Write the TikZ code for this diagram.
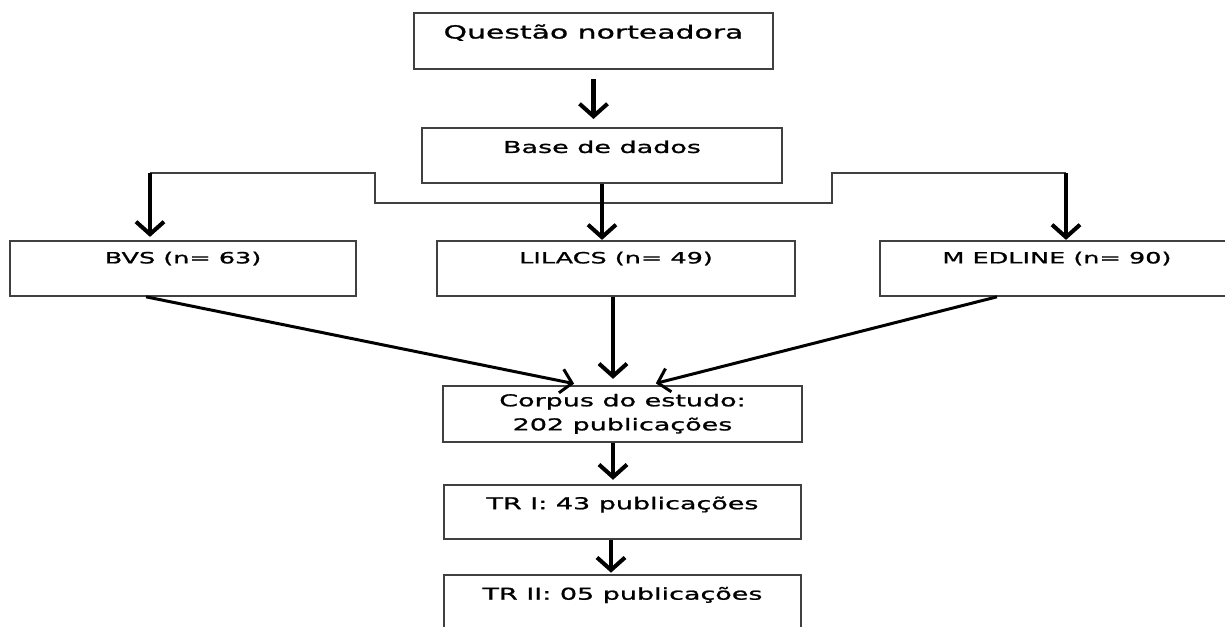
\documentclass[tikz,border=0pt]{standalone}
\usepackage{fontspec}
\newfontfamily\flowfont{DejaVu Sans}[FakeStretch=1.65, FakeBold=1.2]
\usepackage{tikz}
\usetikzlibrary{positioning,arrows.meta}

\begin{document}
\begin{tikzpicture}[
  blk/.style={draw=black!75, line width=1.1pt, minimum height=1.1cm,
              inner sep=0pt, align=center,
              font=\flowfont\fontsize{9.3}{13.7}\selectfont},
  hdblk/.style={blk, text height=0.25cm, text depth=0.35cm},
  rowblk/.style={hdblk, text depth=0.45cm, minimum height=1.1cm,
                 font=\flowfont\fontsize{8.8}{12}\selectfont},
  arr/.style={-{Straight Barb[length=0.25cm, width=0.56cm]}, line width=2.3pt},
  arrd/.style={-{Straight Barb[length=0.22cm, width=0.48cm]}, line width=1.7pt},
  link/.style={draw=black!75, line width=1pt},
]
  \useasboundingbox (0,0) rectangle (24.5,-12.52);

  \node[hdblk, minimum width=7.18cm, minimum height=1.12cm,
        font=\flowfont\fontsize{10.3}{12}\selectfont] (q) at (11.87,-0.82)
    {Questão norteadora};
  \node[hdblk, below=1.14 of q, xshift=0.17cm, minimum width=7.2cm] (base)
    {Base de dados};

  \node[rowblk, below=1.12 of base, xshift=0.28cm, minimum width=7.16cm] (lil)
    {LILACS (n= 49)};
  \node[rowblk, left=1.58 of lil, minimum width=6.92cm] (bvs)
    {BVS (n= 63)};
  \node[rowblk, right=1.66 of lil, minimum width=7.08cm] (med)
    {M EDLINE (n= 90)};

  \node[blk, below=1.76 of lil, xshift=0.13cm, minimum width=7.18cm,
        minimum height=1.12cm] (corpus)
    {Corpus do estudo:\\202 publicações};
  \node[hdblk, below=0.82 of corpus, minimum width=7.14cm,
        minimum height=1.08cm] (tr1)
    {TR I: 43 publicações};
  \node[hdblk, below=0.68 of tr1, minimum width=7.14cm] (tr2)
    {TR II: 05 publicações};

  % branching towards the three databases
  \coordinate (jl) at (3.0,-3.46);
  \coordinate (jr) at (21.32,-3.46);
  \coordinate (sl) at (7.5,-4.06);
  \coordinate (sr) at (16.64,-4.06);

  \draw[arr, shorten <=0.18cm, shorten >=0.16cm] (q.south) -- (q.south |- base.north);
  \draw[link] (jl) -- (jl -| sl) -- (sl) -- (sr) -- (jr -| sr) -- (jr);
  \draw[arr, shorten >=0.06cm] (jl) -- (jl |- bvs.north);
  \draw[arr] (base.south) -- (base.south |- lil.north);
  \draw[arr] (jr) -- (jr |- med.north);

  % merging into the corpus
  \draw[arrd, shorten >=0.12cm] ([xshift=-0.74cm]bvs.south) -- ([xshift=-0.85cm]corpus.north);
  \draw[arr, shorten >=0.12cm] ([xshift=-0.06cm]lil.south) -- ([xshift=-0.06cm]lil.south |- corpus.north);
  \draw[arrd, shorten >=0.12cm] ([xshift=-1.2cm]med.south) -- ([xshift=0.55cm]corpus.north);

  \draw[arr, shorten >=0.08cm] ([xshift=-0.19cm]corpus.south) -- ([xshift=-0.19cm]corpus.south |- tr1.north);
  \draw[arr, shorten >=0.02cm] ([xshift=-0.23cm]tr1.south) -- ([xshift=-0.23cm]tr1.south |- tr2.north);
\end{tikzpicture}
\end{document}
